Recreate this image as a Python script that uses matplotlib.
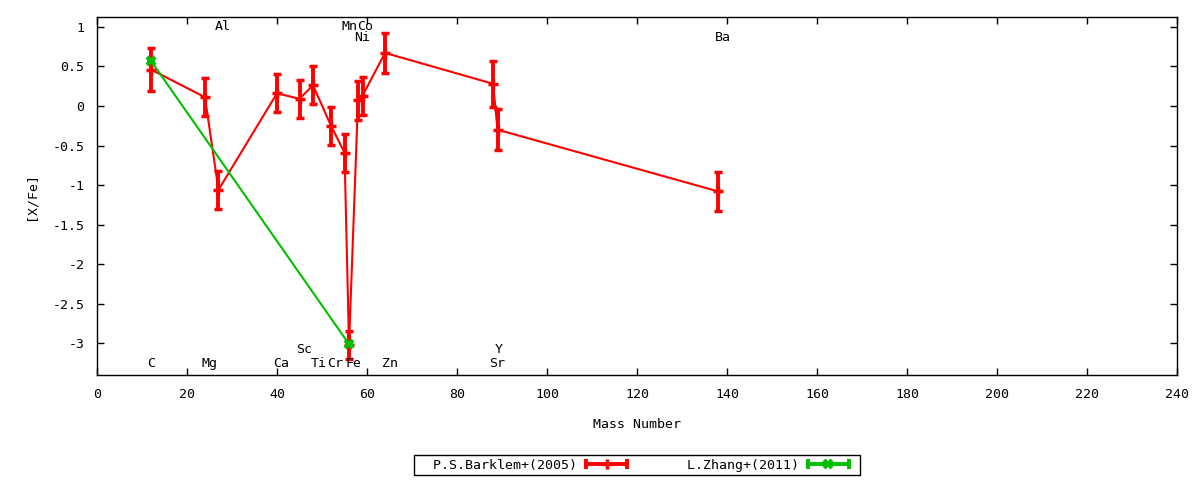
import matplotlib
matplotlib.use('Agg')
import matplotlib.pyplot as plt
from matplotlib.lines import Line2D
from matplotlib.legend_handler import HandlerBase

plt.rcParams['font.family'] = ['DejaVu Sans Mono']
plt.rcParams['font.size'] = 9.5
plt.rcParams['axes.unicode_minus'] = False

# P.S.Barklem+(2005)
barklem_mass = [12, 24, 27, 40, 45, 48, 52, 55, 56, 58, 59, 64, 88, 89, 138]
barklem_xfe = [0.46, 0.11, -1.06, 0.16, 0.09, 0.26, -0.25, -0.59, -3.02, 0.07, 0.13, 0.67, 0.28, -0.30, -1.08]
barklem_err = [0.27, 0.24, 0.24, 0.24, 0.24, 0.24, 0.24, 0.24, 0.18, 0.25, 0.24, 0.255, 0.29, 0.26, 0.25]

# L.Zhang+(2011)
zhang_mass = [12, 56]
zhang_xfe = [0.57, -3.01]
zhang_err = [0.0, 0.0]

# element labels
elem_names = ['C', 'Mg', 'Al', 'Ca', 'Sc', 'Ti', 'Cr', 'Mn', 'Fe', 'Co', 'Ni', 'Zn', 'Sr', 'Y', 'Ba']
elem_x = [12, 25, 28, 41, 46, 49.2, 52.9, 56.0, 57, 59.6, 58.9, 65.1, 88.8, 89.3, 139.0]
elem_y = [-3.25, -3.25, 1.0, -3.25, -3.08, -3.25, -3.25, 1.0, -3.25, 1.0, 0.86, -3.25, -3.25, -3.08, 0.86]

RED = '#ff0000'
GREEN = '#00c000'


class HandlerErrBar(HandlerBase):
    # gnuplot-style key sample: horizontal bar with end caps and point in the middle
    def create_artists(self, legend, orig, xd, yd, w, h, fontsize, trans):
        y = h / 2 - yd
        c = orig.get_color()
        x0, x1 = -xd, -xd + w - 6
        line = Line2D([x0, x1], [y, y], color=c, lw=2.8)
        caps = Line2D([x0, x1], [y, y], ls='none', marker='|', ms=7, mew=2.8, color=c)
        mid = Line2D([(x0 + x1) / 2], [y], ls='none', marker=orig.get_marker(),
                     ms=orig.get_markersize(), mew=orig.get_markeredgewidth(), color=c)
        for a in (line, caps, mid):
            a.set_transform(trans)
        return [line, caps, mid]


fig = plt.figure(figsize=(12, 4.8), dpi=100)
ax = fig.add_axes([0.0808, 0.21875, 0.9002, 0.7452])

ax.errorbar(barklem_mass, barklem_xfe, yerr=barklem_err, color=RED, lw=1.5,
            elinewidth=2.8, capsize=3.2, capthick=2.8, marker='+', ms=7, mew=2.5, zorder=3)
ax.errorbar(zhang_mass, zhang_xfe, yerr=zhang_err, color=GREEN, lw=1.5,
            elinewidth=2.8, capsize=3.2, capthick=2.8, marker='x', ms=6, mew=3, zorder=4)

for name, x, y in zip(elem_names, elem_x, elem_y):
    ax.text(x, y, name, ha='center', va='center', fontsize=9.5)

ax.set_xlim(0, 240)
ax.set_ylim(-3.4, 1.12)
ax.set_xticks(range(0, 241, 20))
ax.set_yticks([1, 0.5, 0, -0.5, -1, -1.5, -2, -2.5, -3])
ax.set_yticklabels(['1', '0.5', '0', '-0.5', '-1', '-1.5', '-2', '-2.5', '-3'])
ax.tick_params(direction='in', top=True, right=True, length=5, width=1, pad=9)
for s in ax.spines.values():
    s.set_linewidth(1)
ax.set_xlabel('Mass Number', labelpad=12.5)
ax.set_ylabel('[X/Fe]', labelpad=11)

h_red = Line2D([], [], color=RED, marker='+', ms=7, mew=2.5)
h_green = Line2D([], [], color=GREEN, marker='x', ms=6, mew=3)
leg = fig.legend([h_red, h_green], ['  P.S.Barklem+(2005)', '  L.Zhang+(2011)'],
                 loc='center', bbox_to_anchor=(637 / 1200, 0.031), ncol=2,
                 markerfirst=False, handlelength=3.7, handletextpad=0.7,
                 columnspacing=2.7, borderpad=0.25, fancybox=False,
                 framealpha=1, edgecolor='black',
                 handler_map={h_red: HandlerErrBar(), h_green: HandlerErrBar()})
leg.get_frame().set_linewidth(1)

fig.savefig('out.png', dpi=100)
